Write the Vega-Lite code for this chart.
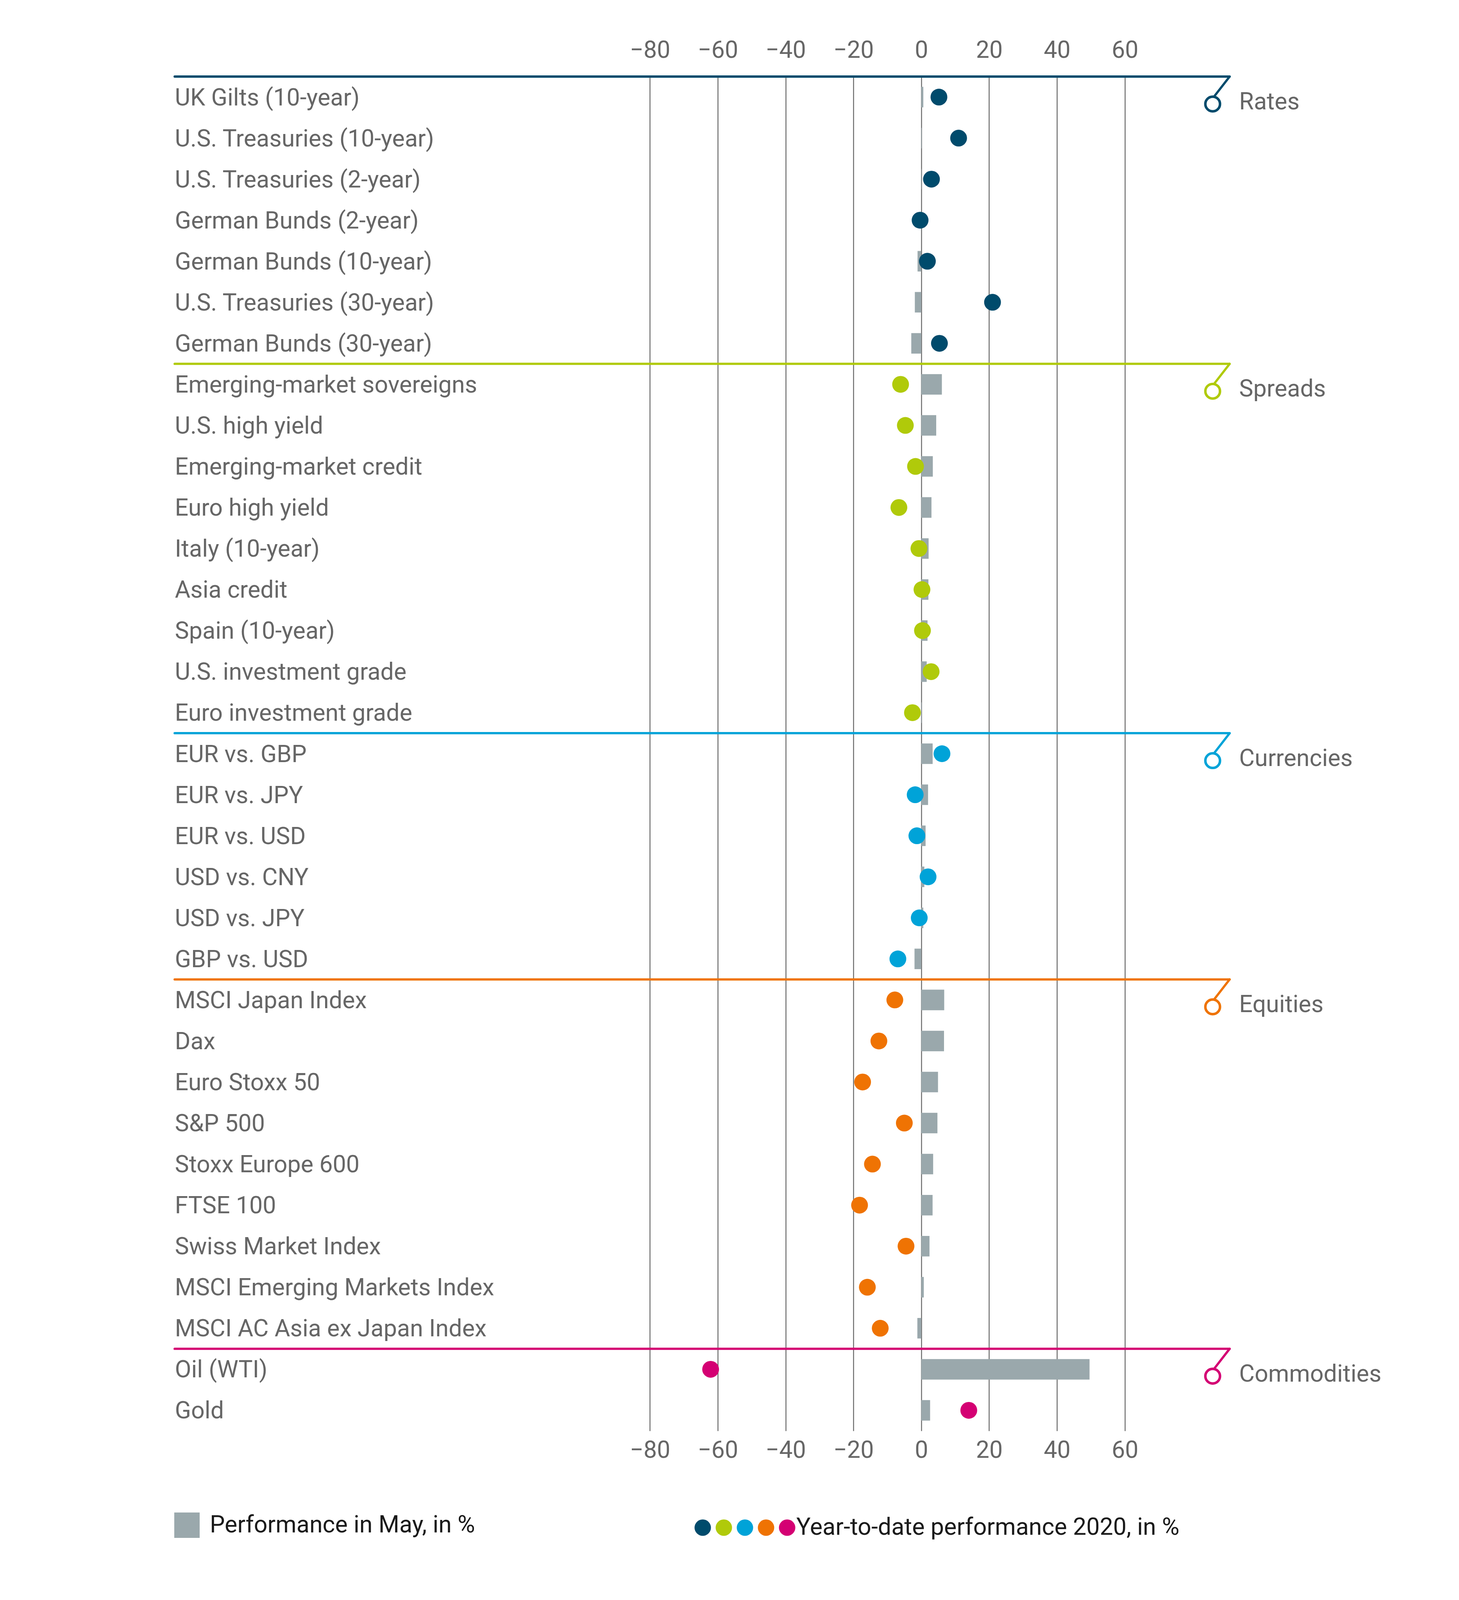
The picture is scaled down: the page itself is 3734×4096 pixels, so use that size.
{
  "$schema": "https://vega.github.io/schema/vega-lite/v6.json",
  "width": 2700,
  "height": 3467,
  "autosize": {"type": "none"},
  "padding": {"left": 447, "top": 196, "right": 587, "bottom": 433},
  "background": "white",
  "config": {
    "view": {"stroke": null},
    "font": "Roboto",
    "axis": {"labelFont": "Roboto", "labelColor": "#666666", "labelFontSize": 61},
    "legend": {"labelFont": "Roboto"}
  },
  "datasets": {
    "items": [
      {"name": "UK Gilts (10-year)", "group": "Rates", "may": 0.6, "ytd": 5.2},
      {"name": "U.S. Treasuries (10-year)", "group": "Rates", "may": 0.15, "ytd": 11.0},
      {"name": "U.S. Treasuries (2-year)", "group": "Rates", "may": 0.1, "ytd": 3.0},
      {"name": "German Bunds (2-year)", "group": "Rates", "may": -0.1, "ytd": -0.35},
      {"name": "German Bunds (10-year)", "group": "Rates", "may": -1.1, "ytd": 1.8},
      {"name": "U.S. Treasuries (30-year)", "group": "Rates", "may": -1.9, "ytd": 21.0},
      {"name": "German Bunds (30-year)", "group": "Rates", "may": -2.95, "ytd": 5.35},
      {"name": "Emerging-market sovereigns", "group": "Spreads", "may": 6.07, "ytd": -6.1},
      {"name": "U.S. high yield", "group": "Spreads", "may": 4.4, "ytd": -4.7},
      {"name": "Emerging-market credit", "group": "Spreads", "may": 3.4, "ytd": -1.7},
      {"name": "Euro high yield", "group": "Spreads", "may": 3.0, "ytd": -6.6},
      {"name": "Italy (10-year)", "group": "Spreads", "may": 2.16, "ytd": -0.7},
      {"name": "Asia credit", "group": "Spreads", "may": 2.1, "ytd": 0.2},
      {"name": "Spain (10-year)", "group": "Spreads", "may": 1.84, "ytd": 0.35},
      {"name": "U.S. investment grade", "group": "Spreads", "may": 1.6, "ytd": 2.9},
      {"name": "Euro investment grade", "group": "Spreads", "may": 0.15, "ytd": -2.6},
      {"name": "EUR vs. GBP", "group": "Currencies", "may": 3.35, "ytd": 6.1},
      {"name": "EUR vs. JPY", "group": "Currencies", "may": 2.0, "ytd": -1.8},
      {"name": "EUR vs. USD", "group": "Currencies", "may": 1.27, "ytd": -1.3},
      {"name": "USD vs. CNY", "group": "Currencies", "may": 0.9, "ytd": 2.0},
      {"name": "USD vs. JPY", "group": "Currencies", "may": 0.6, "ytd": -0.6},
      {"name": "GBP vs. USD", "group": "Currencies", "may": -2.0, "ytd": -6.9},
      {"name": "MSCI Japan Index", "group": "Equities", "may": 6.76, "ytd": -7.8},
      {"name": "Dax", "group": "Equities", "may": 6.7, "ytd": -12.5},
      {"name": "Euro Stoxx 50", "group": "Equities", "may": 4.93, "ytd": -17.3},
      {"name": "S&P 500", "group": "Equities", "may": 4.76, "ytd": -5.0},
      {"name": "Stoxx Europe 600", "group": "Equities", "may": 3.5, "ytd": -14.4},
      {"name": "FTSE 100", "group": "Equities", "may": 3.33, "ytd": -18.2},
      {"name": "Swiss Market Index", "group": "Equities", "may": 2.42, "ytd": -4.5},
      {"name": "MSCI Emerging Markets Index", "group": "Equities", "may": 0.74, "ytd": -15.9},
      {"name": "MSCI AC Asia ex Japan Index", "group": "Equities", "may": -1.16, "ytd": -12.1},
      {"name": "Oil (WTI)", "group": "Commodities", "may": 49.6, "ytd": -62.1},
      {"name": "Gold", "group": "Commodities", "may": 2.6, "ytd": 14.0}
    ],
    "groups": [
      {"group": "Rates", "first": "UK Gilts (10-year)"},
      {"group": "Spreads", "first": "Emerging-market sovereigns"},
      {"group": "Currencies", "first": "EUR vs. GBP"},
      {"group": "Equities", "first": "MSCI Japan Index"},
      {"group": "Commodities", "first": "Oil (WTI)"}
    ]
  },
  "resolve": {"axis": {"x": "independent", "y": "independent"}, "legend": {"color": "independent"}},
  "layer": [
    {
      "data": {"name": "items"},
      "mark": {"type": "bar", "height": {"band": 0.5}},
      "encoding": {
        "y": {
          "field": "name", "type": "nominal",
          "scale": {
            "domain": ["UK Gilts (10-year)", "U.S. Treasuries (10-year)", "U.S. Treasuries (2-year)", "German Bunds (2-year)", "German Bunds (10-year)", "U.S. Treasuries (30-year)", "German Bunds (30-year)", "Emerging-market sovereigns", "U.S. high yield", "Emerging-market credit", "Euro high yield", "Italy (10-year)", "Asia credit", "Spain (10-year)", "U.S. investment grade", "Euro investment grade", "EUR vs. GBP", "EUR vs. JPY", "EUR vs. USD", "USD vs. CNY", "USD vs. JPY", "GBP vs. USD", "MSCI Japan Index", "Dax", "Euro Stoxx 50", "S&P 500", "Stoxx Europe 600", "FTSE 100", "Swiss Market Index", "MSCI Emerging Markets Index", "MSCI AC Asia ex Japan Index", "Oil (WTI)", "Gold"],
            "paddingInner": 0, "paddingOuter": 0
          },
          "axis": {
            "orient": "left", "title": null, "labelAlign": "left", "labelPadding": 0,
            "ticks": false, "tickSize": 0, "domain": false, "grid": false,
            "labelLimit": 2000, "labelBaseline": "middle", "labelOffset": 3, "labelFontSize": 61,
            "labelOverlap": false
          }
        },
        "x": {
          "field": "may", "type": "quantitative",
          "scale": {"domain": [-220.1, 90.9], "nice": false, "zero": false},
          "axis": {
            "orient": "top", "title": null, "values": [-80, -60, -40, -20, 0, 20, 40, 60],
            "grid": true, "gridColor": "#666666", "gridWidth": 2.4, "gridOpacity": 1,
            "domain": false, "ticks": false, "tickSize": 0,
            "labelPadding": 48.5, "labelBaseline": "alphabetic", "labelFlush": false, "labelFontSize": 61
          }
        },
        "fill": {
          "datum": "Performance in May, in %", "type": "nominal",
          "scale": {"range": ["#9aa8ac"]},
          "legend": {
            "orient": "none", "legendX": -1, "legendY": 3676, "title": null,
            "symbolType": "square", "symbolSize": 4225, "symbolStrokeWidth": 0,
            "labelFontSize": 61, "labelColor": "#1a1a1a", "labelOffset": 26,
            "labelLimit": 2000, "padding": 0
          }
        }
      }
    },
    {
      "data": {"name": "groups"},
      "mark": {"type": "rule", "strokeWidth": 5.8, "strokeCap": "round"},
      "encoding": {
        "y": {"field": "first", "type": "nominal", "bandPosition": 0, "axis": null},
        "x": {"datum": -220.1, "axis": null},
        "x2": {"datum": 90.9},
        "color": {"field": "group", "type": "nominal", "legend": null}
      }
    },
    {
      "data": {"name": "groups"},
      "mark": {"type": "rule", "strokeWidth": 5.8, "strokeCap": "round"},
      "encoding": {
        "y": {"field": "first", "type": "nominal", "bandPosition": 0, "axis": null},
        "y2": {"field": "first"},
        "x": {"datum": 90.9, "axis": null},
        "x2": {"datum": 86.2},
        "color": {"field": "group", "type": "nominal", "legend": null}
      }
    },
    {
      "data": {"name": "groups"},
      "mark": {"type": "point", "filled": false, "fill": "white", "strokeWidth": 6.4, "size": 1406, "opacity": 1, "shape": "circle"},
      "encoding": {
        "y": {"field": "first", "type": "nominal", "bandPosition": 0.668, "axis": null},
        "x": {"datum": 85.9, "axis": null},
        "color": {"field": "group", "type": "nominal", "legend": null}
      }
    },
    {
      "data": {"name": "groups"},
      "mark": {"type": "text", "align": "left", "baseline": "alphabetic", "fontSize": 61, "font": "Roboto", "color": "#666666"},
      "encoding": {
        "y": {"field": "first", "type": "nominal", "bandPosition": 0.8, "axis": null},
        "x": {"datum": 93.7, "axis": null},
        "text": {"field": "group"}
      }
    },
    {
      "data": {"name": "items"},
      "mark": {"type": "point", "filled": true, "size": 1849, "opacity": 1, "shape": "circle", "strokeWidth": 0},
      "encoding": {
        "y": {"field": "name", "type": "nominal", "axis": null},
        "x": {
          "field": "ytd", "type": "quantitative",
          "axis": {
            "orient": "bottom", "title": null, "values": [-80, -60, -40, -20, 0, 20, 40, 60],
            "grid": false, "domain": false, "ticks": false, "tickSize": 0,
            "labelPadding": 68.6, "labelBaseline": "alphabetic", "labelFlush": false, "labelFontSize": 61
          }
        },
        "color": {
          "field": "group", "type": "nominal",
          "scale": {
            "domain": ["Rates", "Spreads", "Currencies", "Equities", "Commodities"],
            "range": ["#004b6c", "#b0ca0a", "#00a3d8", "#ef7303", "#d40073"]
          },
          "legend": {
            "orient": "none", "legendX": 1321, "legendY": 3684, "title": null,
            "direction": "horizontal", "columns": 5,
            "symbolType": "circle", "symbolSize": 1764, "symbolStrokeWidth": 0, "symbolOpacity": 1,
            "labelExpr": "datum.label == 'Commodities' ? '\u00a0Year-to-date performance 2020, in %' : ''",
            "labelOffset": -7, "columnPadding": 0,
            "labelFontSize": 61, "labelColor": "#1a1a1a", "labelLimit": 2000, "padding": 0
          }
        }
      }
    }
  ]
}
